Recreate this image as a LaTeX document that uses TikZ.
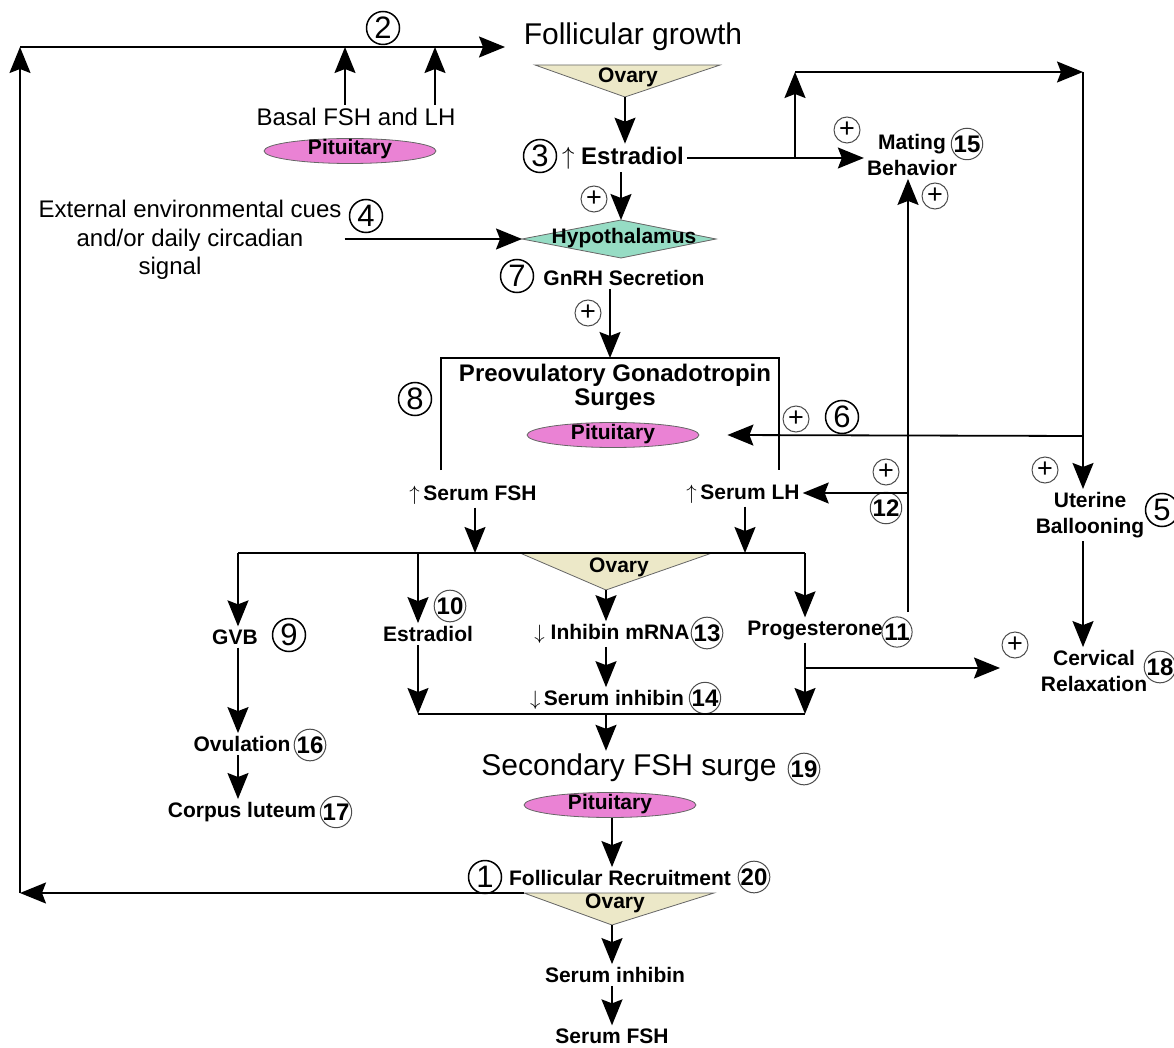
\documentclass[tikz,border=0pt]{standalone}
\usepackage{fontspec}
\setmainfont{Liberation Sans}
\usetikzlibrary{arrows.meta,shapes.geometric}

\definecolor{ovaryfill}{RGB}{236,232,200}
\definecolor{pitfill}{RGB}{234,130,212}
\definecolor{hypfill}{RGB}{150,220,196}

\tikzset{
  arr/.style={-{Stealth[length=26pt,width=21pt,inset=4pt]}, line width=1.8pt},
  ln/.style={line width=1.8pt},
  lbl/.style={font=\bfseries\fontsize{21}{26}\selectfont, inner sep=3pt, align=center},
  lblbig/.style={font=\bfseries\fontsize{24}{24}\selectfont, inner sep=3pt, align=center},
  reg/.style={font=\fontsize{30}{33}\selectfont, inner sep=3pt},
  mid/.style={font=\fontsize{24}{28.5}\selectfont, inner sep=3pt, align=center},
  numbig/.style={circle, draw, line width=1.5pt, minimum size=33pt, inner sep=0pt, font=\fontsize{31}{31}\selectfont},
  numsm/.style={circle, draw=black!70, line width=1pt, minimum size=28pt, inner sep=0pt, font=\bfseries\fontsize{24}{24}\selectfont},
  plus/.style={circle, draw=black!70, line width=1pt, minimum size=26pt, inner sep=0pt, font=\fontsize{27}{27}\selectfont},
  pit/.style={ellipse, draw=black!60, fill=pitfill, line width=0.8pt, minimum width=172pt, minimum height=25pt, inner sep=0pt, text height=10pt, text depth=2pt, font=\bfseries\fontsize{21}{21}\selectfont},
  ovary/.style={draw=black!60, fill=ovaryfill, line width=0.8pt},
}

\begin{document}
\begin{tikzpicture}[x=1pt,y=-1pt]
\useasboundingbox (0,0) rectangle (1174,1048);

% top: follicular growth
\node[reg] (fgrowth) at (633,37) {Follicular growth};
\filldraw[ovary] (535,65) -- (720,65) -- (625,97) coordinate (ovAtip) -- cycle;
\node[lbl] (ovA) at (628,77) {Ovary};
\node[mid] (basal) at (356,117) {Basal FSH and LH};
\node[pit] (pitA) at (350,151) {Pituitary};
\node[lblbig] (estrA) at (623,158) {$\uparrow$\ Estradiol};

% hypothalamus
\filldraw[draw=black!60, fill=hypfill, line width=0.8pt] (522,239) coordinate (hypW) -- (621,220) coordinate (hypN) -- (716,239) -- (621,258) -- cycle;
\node[lbl] (hyp) at (624,238) {Hypothalamus};
\node[mid] (ext) at (190,240) {External environmental cues\\and/or daily circadian\\signal\hspace*{40pt}};
\node[lbl] (gnrh) at (624,278) {GnRH Secretion};

% preovulatory surges
\node[lblbig] (preov) at (615,387) {Preovulatory Gonadotropin\\Surges};
\node[pit] (pitB) at (613,435) {Pituitary};
\node[lbl] (fsh) at (473,495) {$\uparrow$\,Serum FSH};
\node[lbl] (lh) at (743,494) {$\uparrow$\,Serum LH};
\node[lbl] (mating) at (912,155) {Mating\\Behavior};
\node[lbl] (uterine) at (1090,515) {Uterine\\Ballooning};

% ovary responses
\filldraw[ovary] (520,553) -- (712,553) -- (606,590) coordinate (ovBtip) -- cycle;
\node[lbl] (ovB) at (619,567) {Ovary};
\node[lbl] (gvb) at (235,637) {GVB};
\node[lbl] (estrB) at (428,634) {Estradiol};
\node[lbl] (inh) at (612,634) {$\downarrow$\ Inhibin mRNA};
\node[lbl] (prog) at (815,630) {Progesterone};
\node[lbl] (serinh) at (607,700) {$\downarrow$\,Serum inhibin};
\node[lbl] (cervix) at (1094,671) {Cervical\\Relaxation};
\node[lbl] (ovul) at (242,744) {Ovulation};
\node[lbl] (corpus) at (242,812) {Corpus luteum};

% secondary surge and recruitment
\node[reg] (sec) at (629,768) {Secondary FSH surge};
\node[pit] (pitC) at (610,805) {Pituitary};
\node[lbl] (recr) at (620,878) {Follicular Recruitment};
\filldraw[ovary] (524,893) coordinate (ovCleft) -- (714,893) -- (612,925) coordinate (ovCtip) -- cycle;
\node[lbl] (ovC) at (615,903) {Ovary};
\node[lbl] (serinhC) at (615,975) {Serum inhibin};
\node[lbl] (fshC) at (612,1036) {Serum FSH};

% numbers
\node[numbig] (n1) at (485,877) {1};
\node[numbig] (n2) at (383,28) {2};
\node[numbig] (n3) at (540,156) {3};
\node[numbig] (n4) at (366,216) {4};
\node[numbig] (n5) at (1162,510) {5};
\node[numbig] (n6) at (842,417) {6};
\node[numbig] (n7) at (517,276) {7};
\node[numbig] (n8) at (415,399) {8};
\node[numbig] (n9) at (289,635) {9};
\node[numsm] (n10) at (450,606) {10};
\node[numsm] (n11) at (897,632) {11};
\node[numsm] (n12) at (886,508) {12};
\node[numsm] (n13) at (707,633) {13};
\node[numsm] (n14) at (705,698) {14};
\node[numsm] (n15) at (967,144) {15};
\node[numsm] (n16) at (310,745) {16};
\node[numsm] (n17) at (336,812) {17};
\node[numsm] (n18) at (1160,667) {18};
\node[numsm] (n19) at (804,769) {19};
\node[numsm] (n20) at (754,877) {20};

% plus signs
\node[plus] (p1) at (847,130) {+};
\node[plus] (p2) at (594,199) {+};
\node[plus] (p3) at (935,196) {+};
\node[plus] (p4) at (588,313) {+};
\node[plus] (p5) at (796,419) {+};
\node[plus] (p6) at (886,472) {+};
\node[plus] (p7) at (1045,470) {+};
\node[plus] (p8) at (1015,645) {+};

% junctions
\coordinate (loopSW) at (20,893);
\coordinate (loopNW) at (20,47);
\coordinate (fgIn) at (505,47);
\coordinate (bA) at (345,47);
\coordinate (bB) at (435,47);
\coordinate (jA) at (795,158);
\coordinate (jB) at (795,72);
\coordinate (jC) at (1083,72);
\coordinate (jD) at (1083,436);
\coordinate (jE) at (908,612);
\coordinate (jF) at (908,493);
\coordinate (boxN) at (610,358);
\coordinate (sA) at (475,553);
\coordinate (sB) at (745,553);
\coordinate (gvbTop) at (238,553);
\coordinate (eTop) at (418,553);
\coordinate (progTop) at (805,553);
\coordinate (eBot) at (418,714);
\coordinate (progBot) at (805,714);
\coordinate (sfIn) at (606,714);
\coordinate (pB) at (805,668);
\coordinate (cvIn) at (1000,668);

% feedback loop
\draw[arr] (ovCleft) -- (loopSW);
\draw[arr] (loopSW) -- (loopNW);
\draw[arr] (loopNW) -- (fgIn);
\draw[arr] (basal.north -| bA) -- (bA);
\draw[arr] (basal.north -| bB) -- (bB);

% estradiol and hypothalamus
\draw[arr] (ovAtip) -- (ovAtip |- estrA.north);
\draw[arr] (estrA) -- (estrA -| mating.west);
\draw[arr] (jA) -- (jB);
\draw[arr] (jB) -- (jC);
\draw[arr] (jC) -- (jC |- uterine.north);
\draw[arr] (jD) -- ([xshift=28pt]pitB.east);
\draw[arr] (jE) -- (jE |- mating.south);
\draw[arr] (jF) -- (jF -| lh.east);
\draw[arr] (estrA.south -| hypN) -- (hypN);
\draw[arr] (ext.east |- hypW) -- (hypW);
\draw[arr] (gnrh.south -| boxN) -- (boxN);

% surge box
\draw[ln] (441,470) -- (441,358) -- (779,358) -- (779,470);
\draw[arr] (fsh.south -| sA) -- (sA);
\draw[arr] (lh.south -| sB) -- (sB);

% ovary outputs
\draw[ln] (gvbTop) -- (progTop);
\draw[arr] (gvbTop) -- (gvbTop |- gvb.north);
\draw[arr] (eTop) -- (eTop |- estrB.north);
\draw[arr] (progTop) -- (progTop |- prog.north);
\draw[arr] (ovBtip) -- (ovBtip |- inh.north);
\draw[arr] (inh.south -| ovBtip) -- (ovBtip |- serinh.north);
\draw[arr] (estrB.south -| eTop) -- (eBot);
\draw[arr] (prog.south -| progTop) -- (progBot);
\draw[ln] (eBot) -- (progBot);
\draw[arr] (pB) -- (cvIn);
\draw[arr] (uterine.south -| jC) -- (jC |- cervix.north);
\draw[arr] (gvb.south -| gvbTop) -- (gvbTop |- ovul.north);
\draw[arr] (ovul.south -| gvbTop) -- (gvbTop |- corpus.north);

% secondary surge
\draw[arr] (sfIn) -- (sfIn |- sec.north);
\draw[arr] (pitC.south -| ovCtip) -- (ovCtip |- recr.north);
\draw[arr] (ovCtip) -- (ovCtip |- serinhC.north);
\draw[arr] (serinhC.south -| ovCtip) -- (ovCtip |- fshC.north);
\end{tikzpicture}
\end{document}
